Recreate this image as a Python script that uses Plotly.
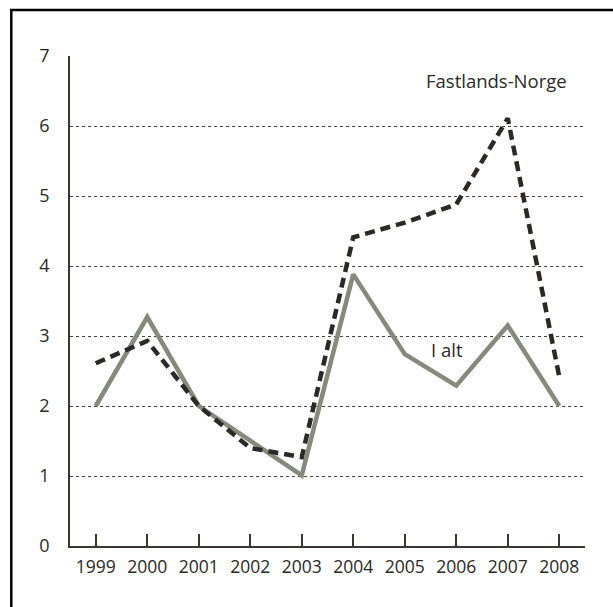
import plotly.graph_objects as go

years = [1999, 2000, 2001, 2002, 2003, 2004, 2005, 2006, 2007, 2008]
i_alt = [2.0, 3.27, 2.0, 1.5, 1.01, 3.88, 2.74, 2.29, 3.15, 2.0]
fastlands = [2.61, 2.93, 2.0, 1.40, 1.27, 4.41, 4.62, 4.88, 6.11, 2.42]
y_ticks = [0, 1, 2, 3, 4, 5, 6, 7]

FONT = "Open Sans"
AX = "#3a3632"

fig = go.Figure()
fig.add_trace(go.Scatter(x=years, y=i_alt, mode="lines", name="I alt",
                         line=dict(color="#868a7c", width=4.5)))
fig.add_trace(go.Scatter(x=years, y=fastlands, mode="lines", name="Fastlands-Norge",
                         line=dict(color="#2b2925", width=4.5, dash="10px,6px")))

fig.add_annotation(x=2006.79, y=6.65, text="Fastlands-Norge", showarrow=False,
                   font=dict(family=FONT, size=18.5, color="#2b2925"))
fig.add_annotation(x=2005.83, y=2.81, text="I alt", showarrow=False,
                   font=dict(family=FONT, size=18.5, color="#2b2925"))

fig.update_layout(
    width=613, height=607,
    margin=dict(l=70, r=28, t=56, b=61),
    paper_bgcolor="white", plot_bgcolor="white",
    showlegend=False,
    font=dict(family=FONT, size=18, color="#2b2925"),
    shapes=[
        dict(type="line", xref="paper", yref="paper", x0=-0.1165, x1=1.2,
             y0=1.0939, y1=1.0939, line=dict(color="black", width=2.5)),
        dict(type="line", xref="paper", yref="paper", x0=-0.114, x1=-0.114,
             y0=1.096, y1=-0.2, line=dict(color="black", width=2.5)),
    ],
)
fig.update_xaxes(range=[1998.5, 2008.5], tickmode="array", tickvals=years,
                 ticktext=[str(y) for y in years],
                 ticks="inside", ticklen=12, tickwidth=1.5, tickcolor=AX,
                 showline=True, linecolor=AX, linewidth=1.5,
                 showgrid=False, zeroline=False, ticklabelstandoff=4,
                 tickfont=dict(family=FONT, size=17.5, color="#2b2925"))
fig.update_yaxes(range=[0, 7], tickmode="array", tickvals=y_ticks,
                 showline=True, linecolor=AX, linewidth=1.5,
                 showgrid=True, gridcolor="#4a4642", gridwidth=1, griddash="dot",
                 zeroline=False, ticks="", ticklabelstandoff=15,
                 tickfont=dict(family=FONT, size=18, color="#2b2925"))

fig.write_html("out.html", config={"displayModeBar": False},
               post_script="document.body.style.margin='0';document.body.style.overflow='hidden';")
